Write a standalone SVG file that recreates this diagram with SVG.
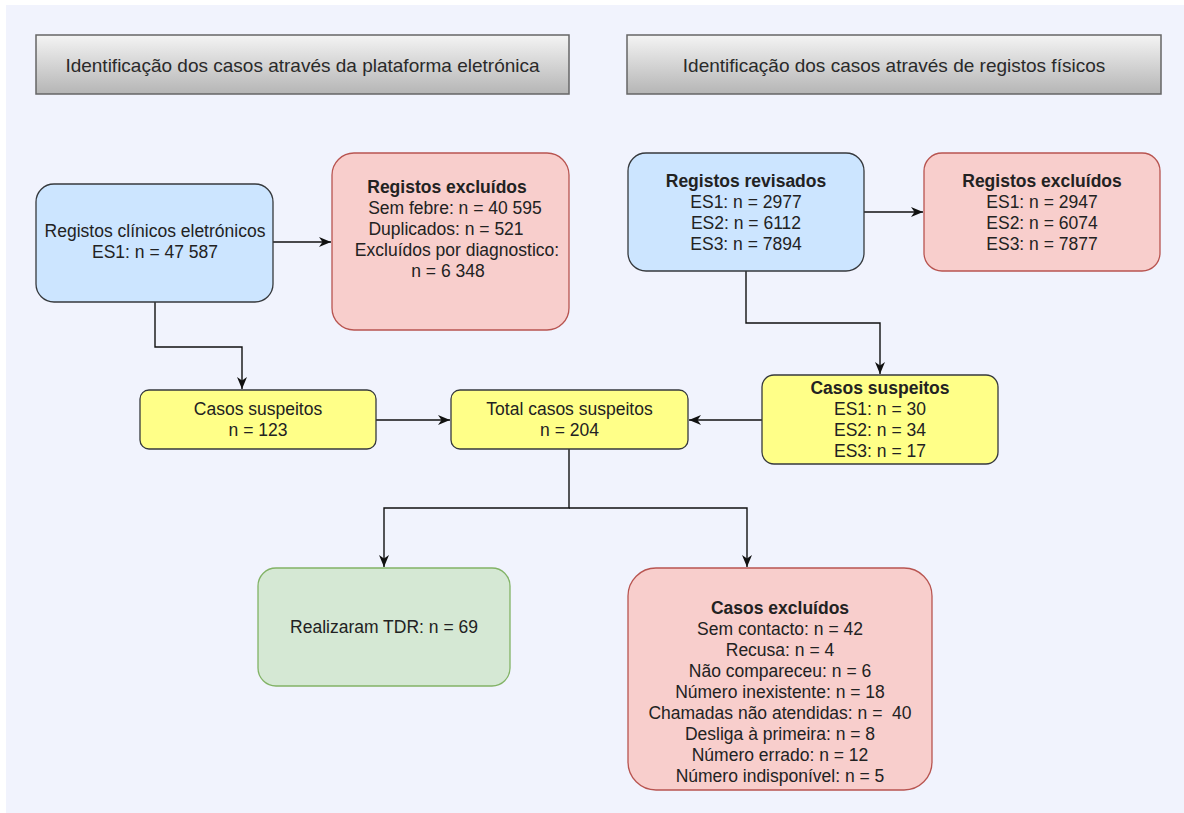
<svg xmlns="http://www.w3.org/2000/svg" width="1184" height="813" viewBox="0 0 1184 813">
<style>
text{font-family:"Liberation Sans",Arial,sans-serif;fill:#222;text-anchor:middle;font-size:17.5px}
.hd{font-size:19px;fill:#2a2a2a}
.b{font-weight:bold}
.pre{white-space:pre}
.blue{fill:#cce5ff;stroke:#36393d;stroke-width:1.3}
.red{fill:#f8cecc;stroke:#b85450;stroke-width:1.3}
.yel{fill:#ffff88;stroke:#36393d;stroke-width:1.3}
.grn{fill:#d5e8d4;stroke:#82b366;stroke-width:1.3}
.hbox{fill:url(#hg);stroke:#666;stroke-width:1.5}
.ln{fill:none;stroke:#111;stroke-width:1.4}
</style>
<defs>
<linearGradient id="hg" x1="0" y1="0" x2="0" y2="1">
<stop offset="0" stop-color="#f4f4f4"/>
<stop offset="1" stop-color="#b5b5b5"/>
</linearGradient>
<marker id="ar" markerUnits="userSpaceOnUse" markerWidth="13" markerHeight="13" viewBox="0 0 13 13" refX="12" refY="6.5" orient="auto">
<path d="M0,1.5 L12,6.5 L0,11.5 L3.5,6.5 Z" fill="#111"/>
</marker>
</defs>
<rect width="1184" height="813" fill="#ffffff"/>
<rect x="6" y="5" width="1178" height="808" fill="#f1f3fd"/>

<g id="header-left">
<rect class="hbox" x="36" y="35" width="533" height="59"/>
<text class="hd" x="302.5" y="71.5">Identificação dos casos através da plataforma eletrónica</text>
</g>
<g id="header-right">
<rect class="hbox" x="627" y="35" width="534" height="59"/>
<text class="hd" x="894" y="71.5">Identificação dos casos através de registos físicos</text>
</g>

<g id="connectors">
<path class="ln" d="M273,242 H331" marker-end="url(#ar)"/>
<path class="ln" d="M155,302 V347 H242 V389" marker-end="url(#ar)"/>
<path class="ln" d="M864,212 H923" marker-end="url(#ar)"/>
<path class="ln" d="M746,271 V323 H880 V374" marker-end="url(#ar)"/>
<path class="ln" d="M376,420 H450" marker-end="url(#ar)"/>
<path class="ln" d="M762,420 H689" marker-end="url(#ar)"/>
<path class="ln" d="M569,449 V508 H384 V567" marker-end="url(#ar)"/>
<path class="ln" d="M569,508 H747 V567" marker-end="url(#ar)"/>
</g>

<g id="n-registos-clinicos">
<rect class="blue" x="36" y="184" width="237" height="118" rx="18"/>
<text x="155" y="236.5">Registos clínicos eletrónicos</text>
<text x="155" y="257.5">ES1: n = 47 587</text>
</g>
<g id="n-registos-excluidos-1">
<rect class="red" x="332" y="153" width="237" height="177" rx="22"/>
<text class="b" x="447" y="193">Registos excluídos</text>
<text x="455" y="214">Sem febre: n = 40 595</text>
<text x="446" y="235">Duplicados: n = 521</text>
<text x="457" y="256">Excluídos por diagnostico:</text>
<text x="448" y="277">n = 6 348</text>
</g>
<g id="n-registos-revisados">
<rect class="blue" x="628" y="153" width="236" height="118" rx="18"/>
<text class="b" x="746" y="186.5">Registos revisados</text>
<text x="746" y="207.5">ES1: n = 2977</text>
<text x="746" y="228.5">ES2: n = 6112</text>
<text x="746" y="249.5">ES3: n = 7894</text>
</g>
<g id="n-registos-excluidos-2">
<rect class="red" x="924" y="153" width="236" height="118" rx="18"/>
<text class="b" x="1042" y="186.5">Registos excluídos</text>
<text x="1042" y="207.5">ES1: n = 2947</text>
<text x="1042" y="228.5">ES2: n = 6074</text>
<text x="1042" y="249.5">ES3: n = 7877</text>
</g>
<g id="n-casos-suspeitos-1">
<rect class="yel" x="140" y="390" width="236" height="59" rx="9"/>
<text x="258" y="415">Casos suspeitos</text>
<text x="258" y="436">n = 123</text>
</g>
<g id="n-total-casos">
<rect class="yel" x="451" y="390" width="237" height="59" rx="9"/>
<text x="569.5" y="415">Total casos suspeitos</text>
<text x="569.5" y="436">n = 204</text>
</g>
<g id="n-casos-suspeitos-2">
<rect class="yel" x="762" y="375" width="236" height="89" rx="12"/>
<text class="b" x="880" y="394">Casos suspeitos</text>
<text x="880" y="415">ES1: n = 30</text>
<text x="880" y="436">ES2: n = 34</text>
<text x="880" y="457">ES3: n = 17</text>
</g>
<g id="n-realizaram-tdr">
<rect class="grn" x="258" y="568" width="252" height="118" rx="18"/>
<text x="384" y="633">Realizaram TDR: n = 69</text>
</g>
<g id="n-casos-excluidos">
<rect class="red" x="628" y="568" width="304" height="222" rx="28"/>
<text class="b" x="780" y="614">Casos excluídos</text>
<text x="780" y="635">Sem contacto: n = 42</text>
<text x="780" y="656">Recusa: n = 4</text>
<text x="780" y="677">Não compareceu: n = 6</text>
<text x="780" y="698">Número inexistente: n = 18</text>
<text class="pre" x="780" y="719">Chamadas não atendidas: n =  40</text>
<text x="780" y="740">Desliga à primeira: n = 8</text>
<text x="780" y="761">Número errado: n = 12</text>
<text x="780" y="782">Número indisponível: n = 5</text>
</g>
</svg>
